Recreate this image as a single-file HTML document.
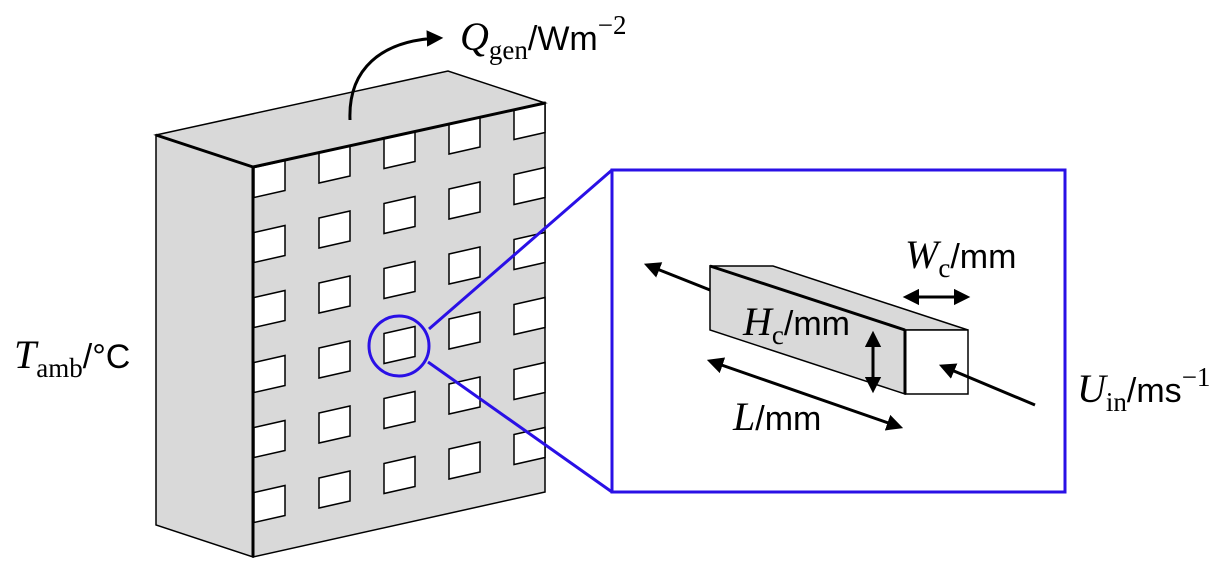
<!DOCTYPE html>
<html><head><meta charset="utf-8"><style>
html,body{margin:0;padding:0;background:#fff;}
svg{display:block}
.v{font-family:"Liberation Serif",serif;font-style:italic;font-size:40px}
.s{font-family:"Liberation Serif",serif;font-size:27px}
.u{font-family:"Liberation Sans",sans-serif;font-size:34px}
</style></head><body>
<svg width="1231" height="566" viewBox="0 0 1231 566">
<defs>
<marker id="ah" viewBox="0 0 10 10" refX="8" refY="5" markerWidth="5.5" markerHeight="5.5" orient="auto-start-reverse"><path d="M0,0 L10,5 L0,10 z" fill="#000"/></marker>
</defs>
<g>
<polygon points="156,135 253,167 253,557 156,525" fill="#d9d9d9" stroke="#000" stroke-width="1.5"/>
<polygon points="156,135 448,71 545,103 253,167" fill="#d9d9d9" stroke="#000" stroke-width="1.5"/>
<polygon points="253,167 545,103 545,492 253,557" fill="#d9d9d9" stroke="#000" stroke-width="1.5"/>
<g id="wins"></g>
<polyline points="156,135 253,167 545,103" fill="none" stroke="#000" stroke-width="3"/>
<line x1="253" y1="167" x2="253" y2="557" stroke="#000" stroke-width="3"/>
</g>
<path d="M350,120 C348,70 380,40 440,38" fill="none" stroke="#000" stroke-width="3" marker-end="url(#ah)"/>
<text x="460" y="50"><tspan class="v">Q</tspan><tspan class="s" dy="9">gen</tspan><tspan class="u" dy="-9">/Wm</tspan><tspan class="s" dy="-16">−2</tspan></text>
<text x="14" y="368"><tspan class="v">T</tspan><tspan class="s" dy="9">amb</tspan><tspan class="u" dy="-9">/°C</tspan></text>
<g>
<circle cx="399" cy="346" r="30" fill="none" stroke="#2a10e6" stroke-width="3"/>
<line x1="429" y1="329" x2="612" y2="170" stroke="#2a10e6" stroke-width="3"/>
<line x1="428" y1="362" x2="612" y2="492" stroke="#2a10e6" stroke-width="3"/>
<rect x="612" y="170" width="453" height="322" fill="#fff" stroke="#2a10e6" stroke-width="3"/>
</g>
<g>
<line x1="710" y1="290" x2="647" y2="265" stroke="#000" stroke-width="3" marker-end="url(#ah)"/>
<polygon points="710,266 773,266 968,330 905,330" fill="#d9d9d9" stroke="#000" stroke-width="1.5"/>
<polygon points="710,266 905,330 905,394 710,330" fill="#d9d9d9" stroke="#000" stroke-width="1.5"/>
<rect x="905" y="330" width="63" height="64" fill="#fff" stroke="#000" stroke-width="1.5"/>
<line x1="710" y1="266" x2="905" y2="330" stroke="#000" stroke-width="3"/>
<line x1="905" y1="330" x2="905" y2="394" stroke="#000" stroke-width="3"/>
</g>
<line x1="1035" y1="405" x2="942" y2="366" stroke="#000" stroke-width="3" marker-end="url(#ah)"/>
<line x1="906" y1="297" x2="967" y2="297" stroke="#000" stroke-width="3" marker-start="url(#ah)" marker-end="url(#ah)"/>
<line x1="873" y1="334" x2="873" y2="390" stroke="#000" stroke-width="3" marker-start="url(#ah)" marker-end="url(#ah)"/>
<line x1="710" y1="361" x2="900" y2="427" stroke="#000" stroke-width="3" marker-start="url(#ah)" marker-end="url(#ah)"/>
<text x="905" y="268"><tspan class="v">W</tspan><tspan class="s" dy="9">c</tspan><tspan class="u" dy="-9">/mm</tspan></text>
<text x="743" y="335"><tspan class="v">H</tspan><tspan class="s" dy="9">c</tspan><tspan class="u" dy="-9">/mm</tspan></text>
<text x="733" y="430"><tspan class="v">L</tspan><tspan class="u">/mm</tspan></text>
<text x="1077" y="402"><tspan class="v">U</tspan><tspan class="s" dy="9">in</tspan><tspan class="u" dy="-9">/ms</tspan><tspan class="s" dy="-16">−1</tspan></text>
</svg>
<script>
const rows=[0,1,2,3,4,5];
const cols=[0,1,2,3,4];
const g=document.getElementById('wins');
const ns='http://www.w3.org/2000/svg';
rows.forEach(r=>cols.forEach(c=>{
  const x=254+c*65, y=167.5-c*14.5+r*65;
  const p=document.createElementNS(ns,'polygon');
  p.setAttribute('points',`${x},${y} ${x+31},${y-7} ${x+31},${y+23} ${x},${y+30}`);
  p.setAttribute('fill','#fff');p.setAttribute('stroke','#000');p.setAttribute('stroke-width','1.5');
  
  
  g.appendChild(p);
}));
</script>
</body></html>
